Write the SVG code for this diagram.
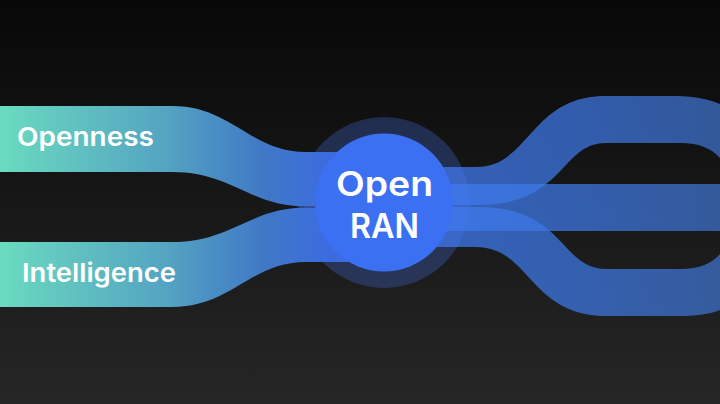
<svg xmlns="http://www.w3.org/2000/svg" width="720" height="404" viewBox="0 0 720 404">
<style>
.lbl{font-family:"Inter","Liberation Sans",sans-serif;fill:#fff;font-weight:600}
.out{fill:url(#rg);fill-opacity:.75}
</style>
<defs>
<linearGradient id="bg" x1="0" y1="0" x2="0" y2="1"><stop offset="0" stop-color="#080808"/><stop offset="1" stop-color="#262626"/></linearGradient>
<linearGradient id="lg" gradientUnits="userSpaceOnUse" x1="0" y1="0" x2="330" y2="0"><stop offset="0" stop-color="#6bdcc0"/><stop offset=".1" stop-color="#66cfc0"/><stop offset=".5" stop-color="#54a4c2"/><stop offset=".8" stop-color="#4078c6"/><stop offset="1" stop-color="#3c6be0"/></linearGradient>
<linearGradient id="rg" gradientUnits="userSpaceOnUse" x1="450" y1="0" x2="720" y2="0"><stop offset="0" stop-color="#3d79ee"/><stop offset=".5" stop-color="#3d76e0"/><stop offset="1" stop-color="#3e70c8"/></linearGradient>
</defs>
<rect id="background" width="720" height="404" fill="url(#bg)"/>
<g id="connectors">
<path id="band-out-top" class="out" d="M420 167H476C530 167 530 96 606 96H676C696 96 710 100 720 104V158C712 149 700 143 680 143H606C560 143 565 205 478 205H420Z"/>
<path id="band-out-middle" class="out" d="M420 184H720V231H420Z"/>
<path id="band-out-bottom" class="out" d="M420 207H478C565 207 560 269 606 269H680C700 269 712 263 720 254V310C710 314 696 316 676 316H606C530 316 530 247 476 247H420Z"/>
</g>
<circle id="ring" cx="384" cy="202.5" r="85.5" fill="#4a78f0" fill-opacity=".28"/>
<g id="connectors-left">
<path id="band-openness" fill="url(#lg)" d="M0 106H172C232 106 250 152 306 152H384V206.5H306C250 206.5 232 172 172 172H0Z"/>
<path id="band-intelligence" fill="url(#lg)" d="M0 242H172C232 242 250 207.5 306 207.5H384V262H306C250 262 232 307 172 307H0Z"/>
</g>
<g id="node-openness"><text class="lbl" x="17" y="146" font-size="26" textLength="137" lengthAdjust="spacingAndGlyphs">Openness</text></g>
<g id="node-intelligence"><text class="lbl" x="22" y="282" font-size="26" textLength="154" lengthAdjust="spacingAndGlyphs">Intelligence</text></g>
<g id="node-open-ran">
<circle cx="384" cy="202.5" r="69" fill="#3b70f3"/>
<text class="lbl" x="336" y="196" font-size="34" textLength="97" lengthAdjust="spacingAndGlyphs">Open</text>
<text class="lbl" x="350" y="238" font-size="34" textLength="69" lengthAdjust="spacingAndGlyphs">RAN</text>
</g>
</svg>
